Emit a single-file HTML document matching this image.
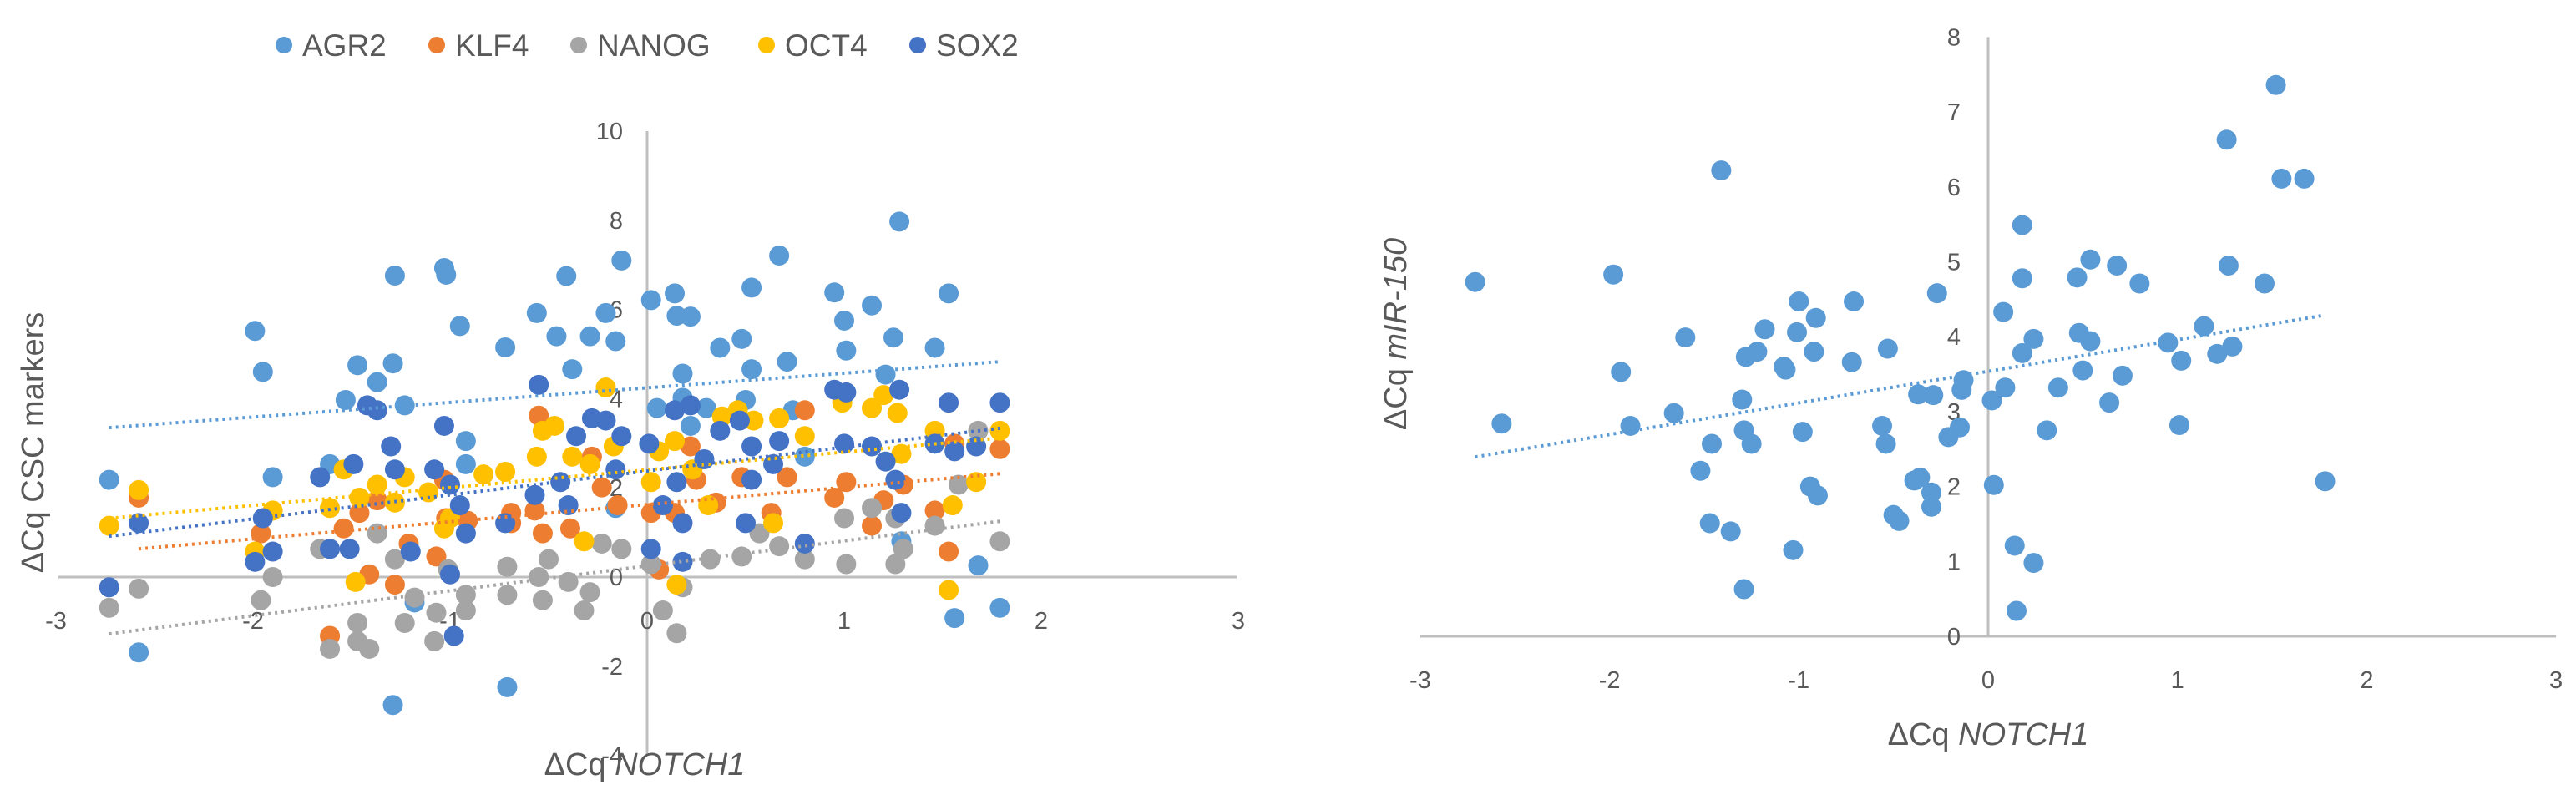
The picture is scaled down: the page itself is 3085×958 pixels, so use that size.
<!DOCTYPE html>
<html><head><meta charset="utf-8"><style>
html,body{margin:0;padding:0;background:#fff;}
svg{display:block;font-family:"Liberation Sans",sans-serif;}
.tick{fill:#595959;font-size:29px;}
.ttl{fill:#595959;font-size:38px;}
</style></head><body>
<svg id="fig" width="3085" height="958" viewBox="0 0 3085 958" xmlns="http://www.w3.org/2000/svg">
<g id="left"></g>
<g id="right"></g>
</svg>
<script>
// ---- Left chart data ----
const seriesNames = ["AGR2","KLF4","NANOG","OCT4","SOX2"];
const seriesColors = ["#5B9BD5","#ED7D31","#A5A5A5","#FFC000","#4472C4"];
const agr2X = [-2.73,-2.58,-1.99,-1.95,-1.90,-1.61,-1.53,-1.47,-1.37,-1.29,-1.28,-1.29,-1.23,-1.18,-1.03,-1.02,-0.95,-0.92,-0.92,-0.72,-0.71,-0.56,-0.46,-0.41,-0.38,-0.29,-0.21,-0.16,-0.13,0.02,0.05,0.14,0.15,0.22,0.18,0.18,0.22,0.30,0.37,0.48,0.50,0.53,0.53,0.67,0.71,0.74,0.80,0.95,1.00,1.01,1.14,1.21,1.25,1.28,1.29,1.46,1.53,1.56,1.68,1.79,-0.16];
const agr2Y = [2.18,-1.69,5.52,4.60,2.24,2.53,3.97,4.75,4.37,4.79,6.76,-2.87,3.85,-0.57,6.93,6.78,5.63,2.53,3.05,5.15,-2.47,5.92,5.40,6.75,4.66,5.40,5.92,5.29,7.10,6.21,3.79,6.36,5.86,5.84,4.56,4.02,3.39,3.79,5.14,5.34,3.97,4.66,6.49,7.21,4.83,3.74,2.70,6.38,5.75,5.08,6.09,4.54,5.37,7.97,0.80,5.14,6.36,-0.92,0.26,-0.69,1.55];
const klf4X = [-2.58,-1.96,-1.61,-1.54,-1.46,-1.41,-1.37,-1.28,-1.21,-1.07,-1.03,-1.02,-0.91,-0.69,-0.57,-0.55,-0.53,-0.39,-0.28,-0.23,-0.15,0.02,0.06,0.14,0.22,0.25,0.35,0.48,0.63,0.71,0.80,0.95,1.01,1.14,1.20,1.30,1.46,1.53,1.56,1.79,-0.69];
const klf4Y = [1.78,0.98,-1.32,1.09,1.44,0.06,1.72,-0.17,0.75,0.46,2.18,1.32,1.26,1.21,1.49,3.62,0.98,1.09,2.70,2.01,1.61,1.44,0.17,1.44,2.93,2.18,1.67,2.24,1.44,2.24,3.74,1.78,2.13,1.15,1.72,2.07,1.49,0.57,2.99,2.87,1.44];
const nanogX = [-2.73,-2.58,-1.96,-1.90,-1.61,-1.66,-1.47,-1.47,-1.41,-1.37,-1.28,-1.23,-1.18,-1.08,-1.07,-1.01,-0.92,-0.92,-0.71,-0.71,-0.55,-0.53,-0.50,-0.40,-0.32,-0.29,-0.23,-0.13,0.02,0.08,0.15,0.18,0.32,0.48,0.57,0.67,0.80,1.00,1.01,1.14,1.26,1.26,1.46,1.58,1.68,1.79,1.30];
const nanogY = [-0.69,-0.26,-0.52,0.00,-1.61,0.63,-1.03,-1.44,-1.61,0.98,0.40,-1.03,-0.46,-1.44,-0.80,0.17,-0.75,-0.40,-0.40,0.23,0.00,-0.52,0.40,-0.11,-0.75,-0.34,0.75,0.63,0.29,-0.75,-1.26,-0.23,0.40,0.46,0.98,0.69,0.40,1.32,0.29,1.55,0.29,1.32,1.15,2.07,3.28,0.80,0.63];
const oct4X = [-2.73,-2.58,-1.99,-1.90,-1.61,-1.54,-1.48,-1.46,-1.37,-1.28,-1.23,-1.11,-1.03,-1.00,-0.83,-0.72,-0.56,-0.53,-0.47,-0.38,-0.32,-0.29,-0.21,-0.17,0.02,0.06,0.14,0.15,0.23,0.31,0.38,0.46,0.54,0.64,0.67,0.80,0.99,1.14,1.20,1.29,1.27,1.46,1.53,1.55,1.67,1.79];
const oct4Y = [1.15,1.95,0.57,1.49,1.55,2.41,-0.11,1.78,2.07,1.67,2.24,1.90,1.09,1.32,2.30,2.36,2.70,3.28,3.39,2.70,0.80,2.53,4.25,2.93,2.13,2.82,3.05,-0.17,2.41,1.61,3.60,3.74,3.51,1.21,3.56,3.16,3.91,3.79,4.08,2.76,3.68,3.28,-0.29,1.61,2.13,3.28];
const sox2X = [-2.73,-2.58,-1.99,-1.95,-1.90,-1.66,-1.61,-1.49,-1.51,-1.42,-1.37,-1.30,-1.28,-1.20,-1.08,-1.03,-1.00,-0.95,-0.92,-1.00,-0.98,-0.72,-0.57,-0.55,-0.44,-0.40,-0.36,-0.28,-0.21,-0.16,-0.13,0.01,0.02,0.08,0.14,0.15,0.18,0.18,0.22,0.29,0.37,0.47,0.50,0.53,0.53,0.64,0.67,0.80,0.95,1.01,1.00,1.14,1.21,1.26,1.28,1.29,1.46,1.53,1.56,1.67,1.79];
const sox2Y = [-0.23,1.21,0.34,1.32,0.57,2.24,0.63,2.53,0.63,3.85,3.74,2.93,2.41,0.57,2.41,3.39,2.07,1.61,0.98,0.06,-1.32,1.21,1.84,4.31,2.13,1.61,3.16,3.56,3.51,2.41,3.16,2.99,0.63,1.61,3.74,2.13,1.21,0.34,3.85,2.64,3.28,3.51,1.21,2.18,2.93,2.53,3.05,0.75,4.20,4.14,2.99,2.93,2.59,2.18,4.20,1.44,2.99,3.91,2.82,2.93,3.91];
const leftXTicks = [-3,-2,-1,0,1,2,3];
const leftYTicks = [-4,-2,0,2,4,6,8,10];
// ---- Right chart data ----
const mirX = [-2.71,-2.57,-1.98,-1.94,-1.89,-1.66,-1.60,-1.52,-1.47,-1.41,-1.46,-1.36,-1.30,-1.29,-1.29,-1.28,-1.25,-1.22,-1.18,-1.08,-1.07,-1.03,-1.01,-1.00,-0.98,-0.94,-0.92,-0.91,-0.90,-0.72,-0.71,-0.56,-0.54,-0.53,-0.50,-0.47,-0.39,-0.37,-0.36,-0.30,-0.29,-0.30,-0.27,-0.21,-0.15,-0.14,-0.13,0.02,0.03,0.08,0.09,0.14,0.15,0.18,0.18,0.18,0.24,0.24,0.31,0.37,0.47,0.48,0.50,0.54,0.54,0.64,0.68,0.71,0.80,0.95,1.01,1.02,1.14,1.21,1.26,1.27,1.29,1.46,1.52,1.55,1.67,1.78];
const mirY = [4.73,2.84,4.83,3.53,2.81,2.98,3.99,2.21,1.51,6.22,2.57,1.40,3.16,0.63,2.75,3.73,2.57,3.80,4.10,3.60,3.56,1.15,4.06,4.47,2.73,2.00,3.80,4.25,1.88,3.66,4.47,2.81,2.57,3.84,1.62,1.54,2.08,3.23,2.12,1.92,3.22,1.73,4.58,2.66,2.79,3.29,3.42,3.15,2.02,4.33,3.32,1.21,0.34,4.78,5.49,3.78,3.97,0.98,2.75,3.32,4.79,4.05,3.55,5.03,3.94,3.12,4.95,3.48,4.71,3.92,2.82,3.68,4.14,3.77,6.63,4.95,3.87,4.71,7.36,6.11,6.11,2.07];
const rightXTicks = [-3,-2,-1,0,1,2,3];
const rightYTicks = [0,1,2,3,4,5,6,7,8];

const NS="http://www.w3.org/2000/svg";
function mk(parent, tag, attrs, text){
  const e=document.createElementNS(NS,tag);
  for(const k in attrs) e.setAttribute(k,attrs[k]);
  if(text!==undefined) e.textContent=text;
  parent.appendChild(e); return e;
}
function fit(xs,ys){
  const n=xs.length; let mx=0,my=0;
  for(let i=0;i<n;i++){mx+=xs[i];my+=ys[i];} mx/=n; my/=n;
  let sxy=0,sxx=0;
  for(let i=0;i<n;i++){sxy+=(xs[i]-mx)*(ys[i]-my);sxx+=(xs[i]-mx)**2;}
  const b=sxy/sxx; return {b:b,a:my-b*mx,min:Math.min(...xs),max:Math.max(...xs)};
}

// ===== Left chart =====
const L=document.getElementById('left');
const lx=v=>775+v*236, ly=v=>691-v*53.4;
let e;
e=mk(L,'line',{x1:70,x2:1481,y1:ly(0),y2:ly(0),stroke:'#bfbfbf','stroke-width':3});


e=mk(L,'line',{x1:lx(0),x2:lx(0),y1:ly(10),y2:ly(-4),stroke:'#bfbfbf','stroke-width':3});


leftXTicks.forEach(t=>{
  e=mk(L,'text',{x:lx(t),y:753,'text-anchor':'middle',class:'tick'},String(t));
  
  
});
leftYTicks.forEach(t=>{
  e=mk(L,'text',{x:746,y:ly(t)+10,'text-anchor':'end',class:'tick'},String(t));
  
  
});
const allX=[agr2X,klf4X,nanogX,oct4X,sox2X], allY=[agr2Y,klf4Y,nanogY,oct4Y,sox2Y];
allX.forEach((xs,s)=>{
  const g=mk(L,'g',{});
  
  
  xs.forEach((x,i)=>{
    const c=mk(g,'circle',{cx:lx(x),cy:ly(allY[s][i]),r:12,fill:seriesColors[s]});
    
    
  });
});
allX.forEach((xs,s)=>{
  const f=fit(xs,allY[s]);
  const t=mk(L,'line',{x1:lx(f.min),y1:ly(f.a+f.b*f.min),x2:lx(f.max),y2:ly(f.a+f.b*f.max),stroke:seriesColors[s],'stroke-width':4,'stroke-dasharray':'3 5'});
  
  
});
// legend
const legX=[340,523,693,918,1099];
seriesNames.forEach((n,s)=>{
  const g=mk(L,'g',{});
  
  
  mk(g,'circle',{cx:legX[s],cy:54,r:10,fill:seriesColors[s]});
  mk(g,'text',{x:legX[s]+22,y:67,fill:'#595959','font-size':37},n);
});
e=mk(L,'text',{x:0,y:0,class:'ttl',transform:'translate(52,530) rotate(-90)','text-anchor':'middle'},'ΔCq CSC markers');


e=mk(L,'text',{x:772,y:928,class:'ttl','text-anchor':'middle'});


e.innerHTML='ΔCq <tspan font-style="italic">NOTCH1</tspan>';

// ===== Right chart =====
const R=document.getElementById('right');
const rx=v=>2381+v*226.7, ry=v=>762-v*89.7;
e=mk(R,'line',{x1:rx(-3),x2:rx(3),y1:ry(0),y2:ry(0),stroke:'#bfbfbf','stroke-width':3});


e=mk(R,'line',{x1:rx(0),x2:rx(0),y1:ry(8),y2:ry(0),stroke:'#bfbfbf','stroke-width':3});


rightXTicks.forEach(t=>{
  e=mk(R,'text',{x:rx(t),y:824,'text-anchor':'middle',class:'tick'},String(t));
  
  
});
rightYTicks.forEach(t=>{
  e=mk(R,'text',{x:2348,y:ry(t)+10,'text-anchor':'end',class:'tick'},String(t));
  
  
});
mirX.forEach((x,i)=>{
  const c=mk(R,'circle',{cx:rx(x),cy:ry(mirY[i]),r:12,fill:'#5B9BD5'});
  
  
});
{
  const f=fit(mirX,mirY);
  const t=mk(R,'line',{x1:rx(f.min),y1:ry(f.a+f.b*f.min),x2:rx(f.max),y2:ry(f.a+f.b*f.max),stroke:'#5B9BD5','stroke-width':4,'stroke-dasharray':'3 5'});
  
  
}
e=mk(R,'text',{x:0,y:0,class:'ttl',transform:'translate(1684,400) rotate(-90)','text-anchor':'middle'});


e.innerHTML='ΔCq <tspan font-style="italic">mIR-150</tspan>';
e=mk(R,'text',{x:2381,y:892,class:'ttl','text-anchor':'middle'});


e.innerHTML='ΔCq <tspan font-style="italic">NOTCH1</tspan>';
</script>
</body></html>
